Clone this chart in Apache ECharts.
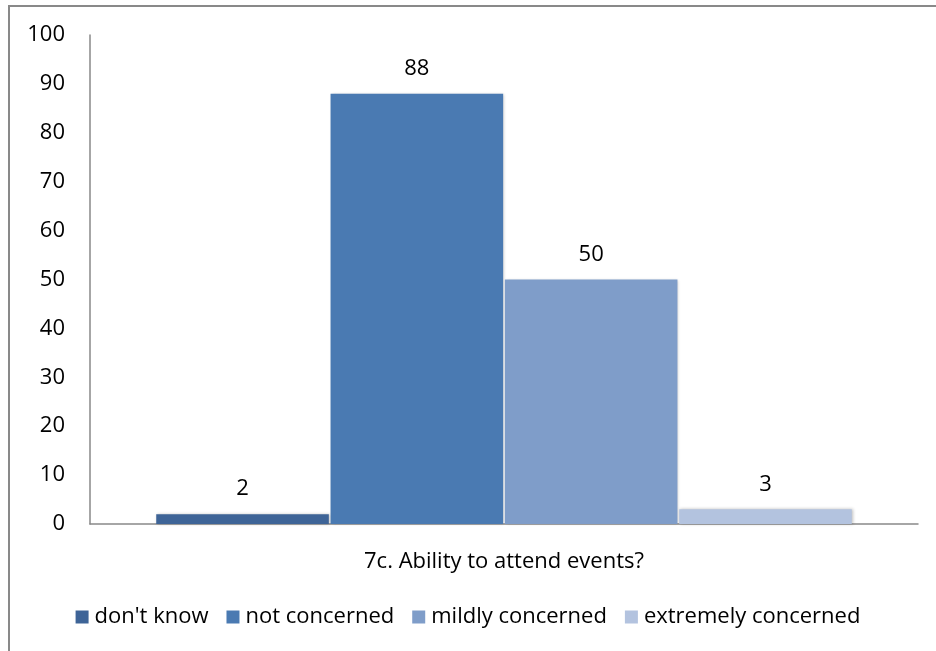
<!DOCTYPE html>
<html>
<head>
<meta charset="utf-8">
<script src="https://cdn.jsdelivr.net/npm/echarts@6/dist/echarts.min.js"></script>
<style>html,body{margin:0;padding:0;background:#fff}#c{width:936px;height:651px}</style>
</head>
<body>
<div id="c"></div>
<script>
var categories = ['7c. Ability to attend events?'];
var seriesNames = ["don't know", 'not concerned', 'mildly concerned', 'extremely concerned'];
var seriesValues = [[2], [88], [50], [3]];
var seriesColors = ['#3E6497', '#4A7AB2', '#7F9DC9', '#B3C3DF'];
var yTicks = [0, 10, 20, 30, 40, 50, 60, 70, 80, 90, 100];

var FONT = 'Open Sans';
var FS = 22;
var chart = echarts.init(document.getElementById('c'), null, {renderer: 'canvas'});
var series = seriesNames.map(function (n, i) {
  return {
    name: n,
    type: 'bar',
    data: seriesValues[i],
    barGap: '1%',
    barCategoryGap: '16%',
    itemStyle: {
      color: seriesColors[i],
      shadowColor: 'rgba(0,0,0,0.25)',
      shadowBlur: 3,
      shadowOffsetX: 1,
      shadowOffsetY: 0
    },
    label: {
      show: true,
      position: 'top',
      distance: 14,
      color: '#000',
      fontFamily: FONT,
      fontSize: FS
    }
  };
});
chart.setOption({
  animation: false,
  backgroundColor: '#fff',
  textStyle: {fontFamily: FONT},
  graphic: [{
    type: 'rect',
    shape: {x: 9, y: 6, width: 1000, height: 1000},
    style: {fill: 'none', stroke: '#898989', lineWidth: 2},
    silent: true
  }],
  grid: {left: 90, right: 18, top: 35, bottom: 127, containLabel: false},
  legend: {
    data: seriesNames,
    bottom: 18,
    left: 'center',
    icon: 'rect',
    itemWidth: 13,
    itemHeight: 13,
    itemGap: 18,
    textStyle: {fontFamily: FONT, fontSize: FS, color: '#000', padding: [0, 0, 0, 1]}
  },
  xAxis: {
    type: 'category',
    data: categories,
    axisLine: {lineStyle: {color: '#898989', width: 1.5}},
    axisTick: {show: false},
    axisLabel: {color: '#000', fontFamily: FONT, fontSize: FS, margin: 27}
  },
  yAxis: {
    type: 'value',
    min: yTicks[0],
    max: yTicks[yTicks.length - 1],
    interval: 10,
    axisLine: {show: true, lineStyle: {color: '#898989', width: 1.5}},
    axisTick: {show: false},
    splitLine: {show: false},
    axisLabel: {color: '#000', fontFamily: FONT, fontSize: FS, margin: 25}
  },
  series: series
});
</script>
</body>
</html>
